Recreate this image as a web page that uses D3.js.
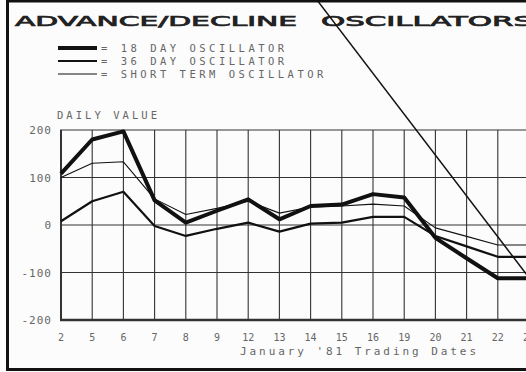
<!DOCTYPE html>
<html>
<head>
<meta charset="utf-8">
<script src="https://cdn.jsdelivr.net/npm/d3@7"></script>
<style>
  html, body { margin: 0; padding: 0; background: #fcfcfc; }
  svg { display: block; }
</style>
</head>
<body>
<script>
// Trading dates, January 1981
const dates = ["2","5","6","7","8","9","12","13","14","15","16","19","20","21","22","23"];
// Oscillator readings for each date
const osc18 = [108,180,197,52,5,30,54,12,40,43,65,58,-27,-70,-112,-112];
const osc36 = [8,50,70,-2,-23,-8,5,-14,3,5,17,17,-23,-45,-67,-67];
const shortTerm = [100,130,133,55,22,35,50,25,38,40,44,40,-6,-24,-42,-42];
const yTicks = [-200,-100,0,100,200];
// Hand-drawn trend line, in (date index, value) units
const trendLine = [[8.2, 474], [17.2, -300]];

const legendItems = [
  {label: "= 18 DAY OSCILLATOR", width: 4},
  {label: "= 36 DAY OSCILLATOR", width: 2.2},
  {label: "= SHORT TERM OSCILLATOR", width: 1}
];

const W = 526, H = 372;
const svg = d3.select("body").append("svg").attr("width", W).attr("height", H);

const x = d3.scalePoint().domain(dates).range([61, 529]);
const xi = d3.scaleLinear().domain([0, dates.length - 1]).range([61, 529]);
const y = d3.scaleLinear().domain([-200, 200]).range([320, 130]);
const plotRight = 600;

const ink = "#111";
const textGray = "#666";
const mono = "'DejaVu Sans Mono', monospace";

// Title
const titleStyle = sel => sel
  .attr("lengthAdjust", "spacingAndGlyphs")
  .attr("font-family", "'DejaVu Sans', sans-serif").attr("font-weight", "normal")
  .attr("font-size", 14).attr("fill", "#222")
  .attr("stroke", "#222").attr("stroke-width", 0.7);
svg.append("text").attr("x", 15).attr("y", 26).attr("textLength", 282)
  .call(titleStyle).text("ADVANCE/DECLINE");
svg.append("text").attr("x", 321).attr("y", 26).attr("textLength", 212)
  .call(titleStyle).text("OSCILLATORS");

// Legend
const lg = svg.append("g");
legendItems.forEach((d, i) => {
  const yy = 48 + i * 13;
  lg.append("line").attr("x1", 58).attr("x2", 97).attr("y1", yy).attr("y2", yy)
    .attr("stroke", ink).attr("stroke-width", d.width);
  lg.append("text").attr("x", 101).attr("y", yy + 4)
    .attr("textLength", d.label.length * 9.8 - 3).attr("lengthAdjust", "spacing")
    .attr("font-family", mono).attr("font-size", 10.5).attr("fill", textGray)
    .text(d.label);
});

// Y axis caption
svg.append("text").attr("x", 57).attr("y", 119)
  .attr("textLength", 100).attr("lengthAdjust", "spacing")
  .attr("font-family", mono).attr("font-size", 10.5).attr("fill", textGray)
  .text("DAILY VALUE");

// Grid
const grid = svg.append("g");
grid.selectAll(".h").data(yTicks).join("line")
  .attr("x1", 60).attr("x2", plotRight)
  .attr("y1", d => y(d)).attr("y2", d => y(d))
  .attr("stroke", "#333").attr("stroke-width", d => d === -200 ? 2.5 : 1.1);
grid.selectAll(".v").data(dates).join("line")
  .attr("x1", d => x(d)).attr("x2", d => x(d))
  .attr("y1", y(200)).attr("y2", y(-200))
  .attr("stroke", "#333").attr("stroke-width", (d, i) => i === 0 ? 2 : 1.1);

// Y tick labels
svg.append("g").selectAll("text").data(yTicks).join("text")
  .attr("x", 52).attr("y", d => y(d) + 4).attr("text-anchor", "end")
  .attr("font-family", mono).attr("font-size", 11).attr("letter-spacing", 1)
  .attr("fill", textGray).text(d => d);

// X tick labels
svg.append("g").selectAll("text").data(dates).join("text")
  .attr("x", d => x(d)).attr("y", 341).attr("text-anchor", "middle")
  .attr("font-family", mono).attr("font-size", 10).attr("fill", textGray)
  .text(d => d);

// X axis caption
svg.append("text").attr("x", 240).attr("y", 355)
  .attr("textLength", 236).attr("lengthAdjust", "spacing")
  .attr("font-family", mono).attr("font-size", 11).attr("fill", textGray)
  .text("January '81 Trading Dates");

// Oscillator lines
const line = d3.line().x((d, i) => x(dates[i])).y(d => y(d));
[[shortTerm, 1.1], [osc36, 2.2], [osc18, 4]].forEach(([vals, w]) => {
  svg.append("path").datum(vals).attr("d", line)
    .attr("fill", "none").attr("stroke", ink).attr("stroke-width", w)
    .attr("stroke-linejoin", "round");
});

// Trend line
svg.append("path").datum(trendLine)
  .attr("d", d3.line().x(d => xi(d[0])).y(d => y(d[1])))
  .attr("fill", "none").attr("stroke", ink).attr("stroke-width", 1.5);

// Outer frame
svg.append("rect").attr("x", 7.5).attr("y", 1).attr("width", 700).attr("height", 368.5)
  .attr("fill", "none").attr("stroke", ink).attr("stroke-width", 3);
</script>
</body>
</html>
